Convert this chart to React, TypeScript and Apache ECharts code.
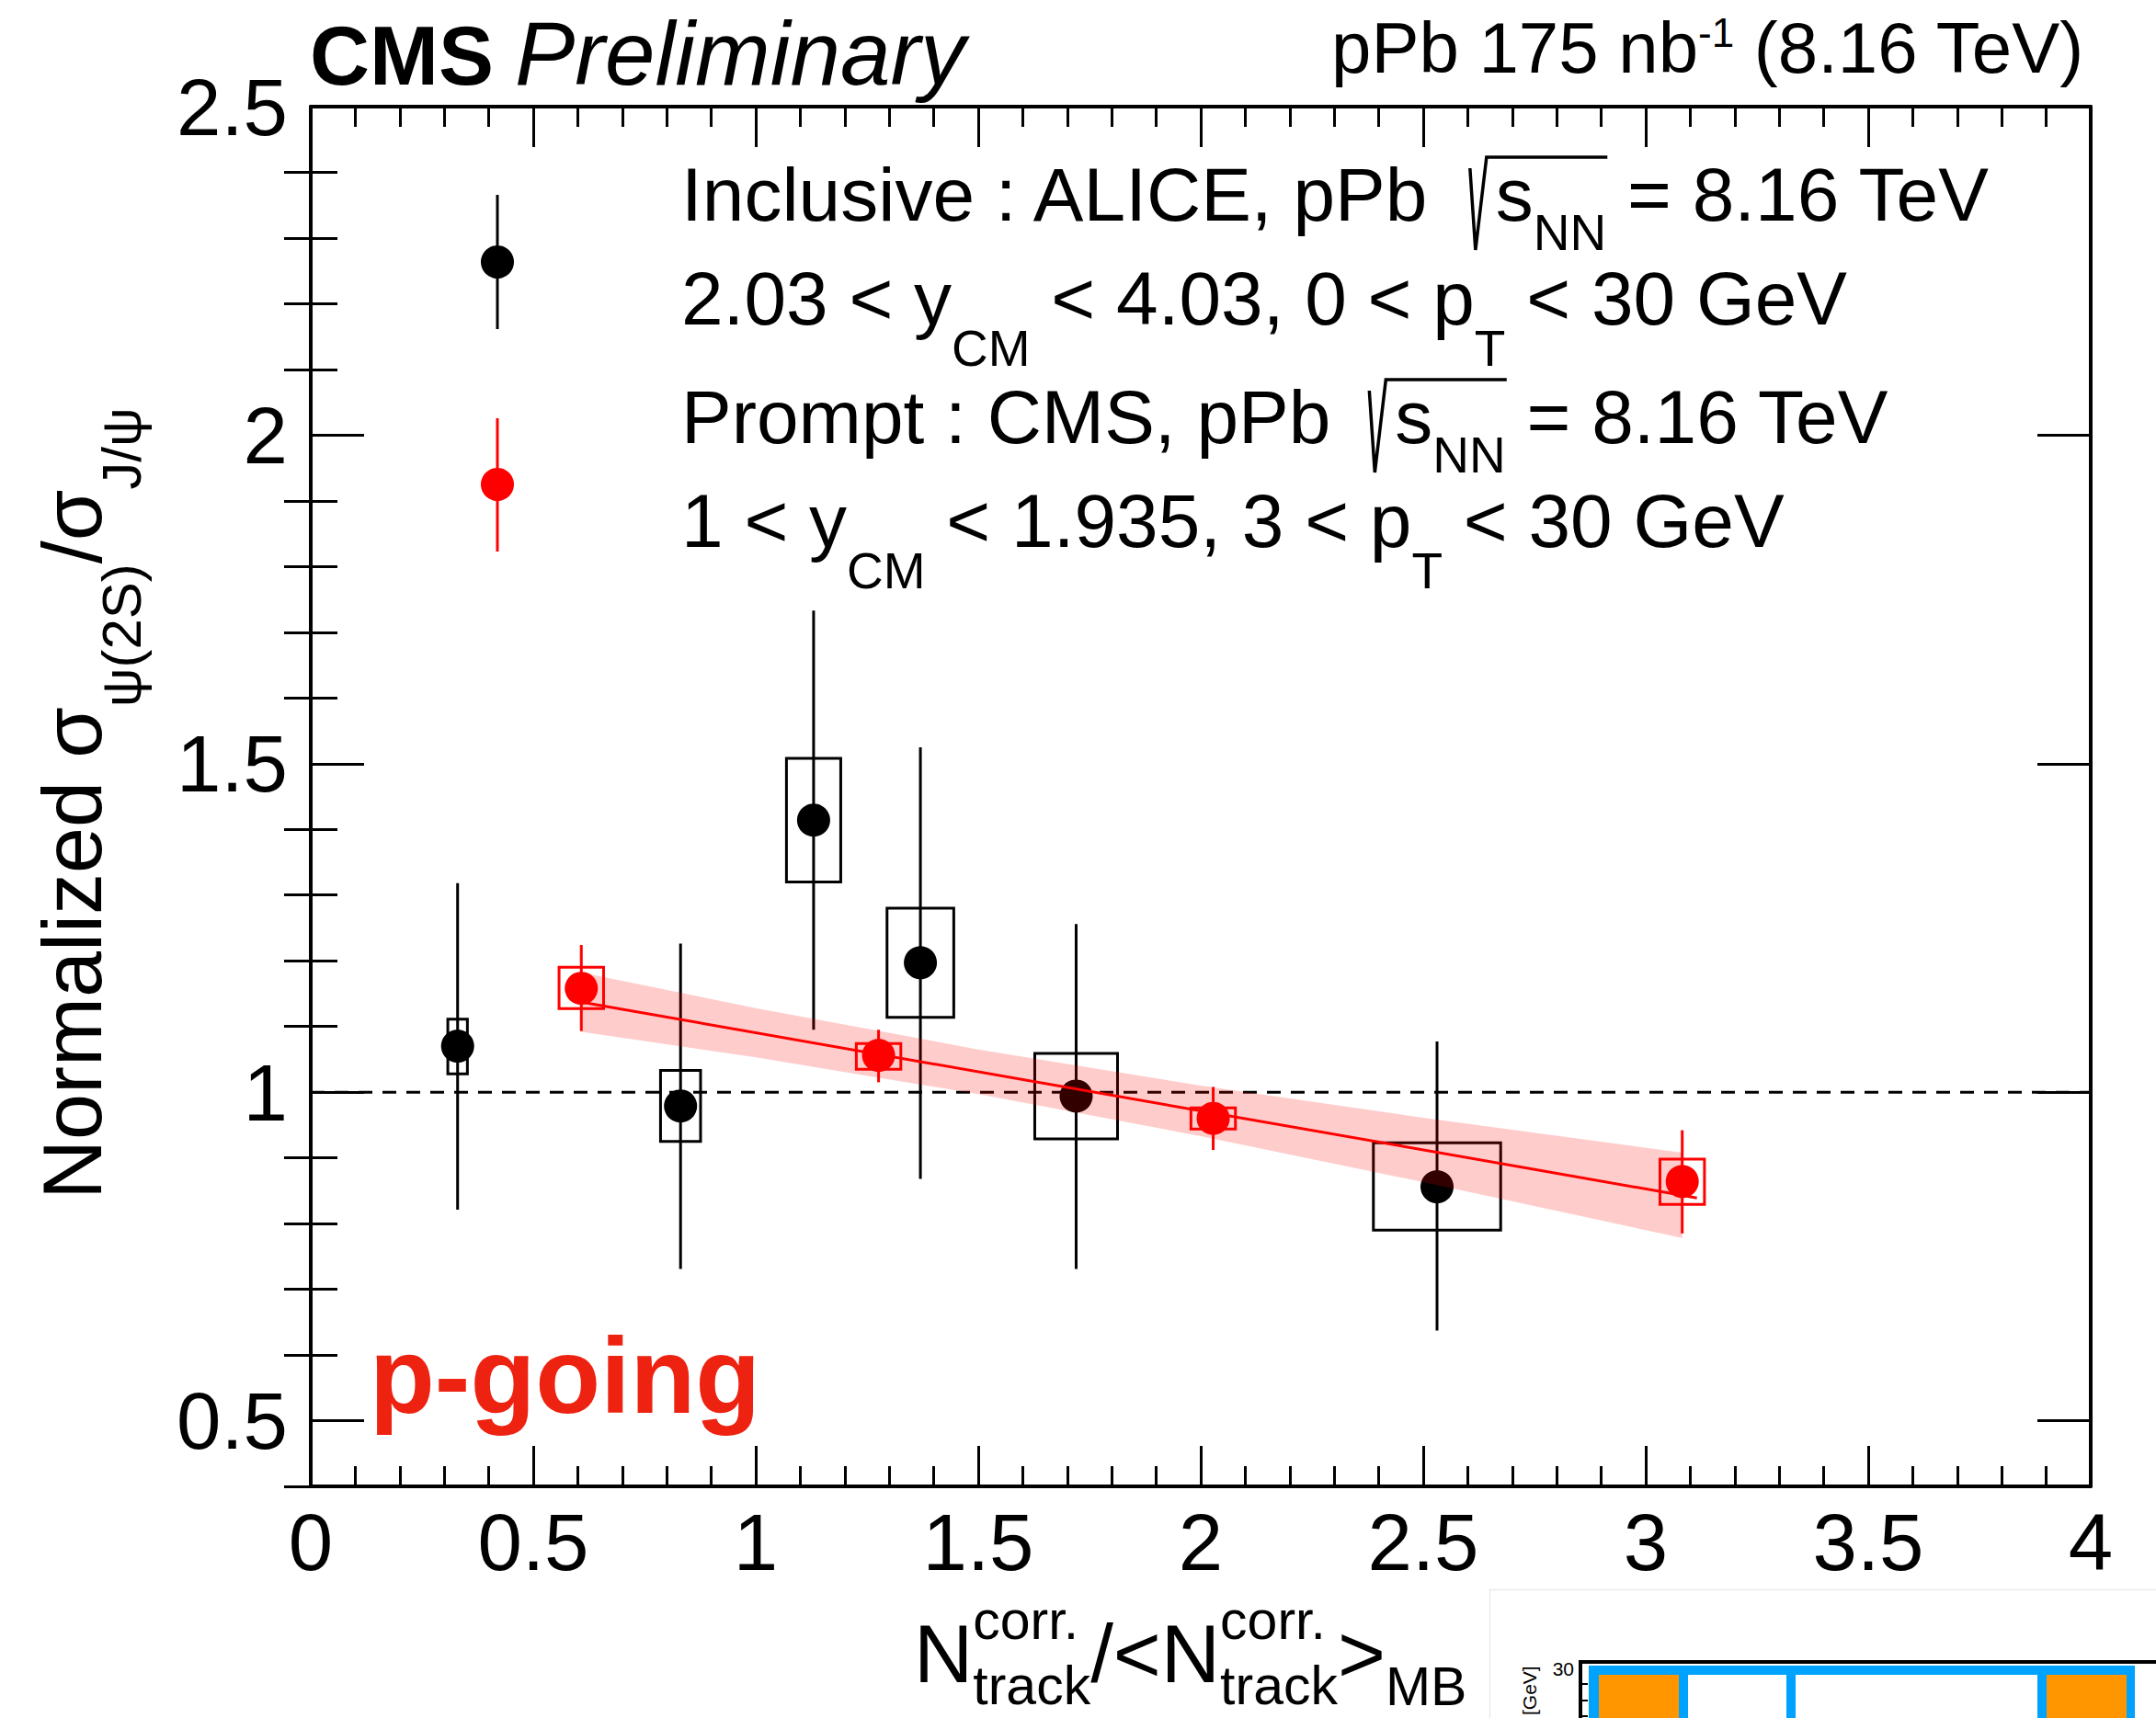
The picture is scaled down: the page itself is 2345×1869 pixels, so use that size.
import React, { useEffect, useRef } from "react";
import * as echarts from "echarts";

const FONT = "'Liberation Sans', Arial, Helvetica, sans-serif";
const CENTRAL = 0.3467;

// ---------------- data ----------------
// ALICE inclusive (black)
const aliceX = [0.33, 0.831, 1.13, 1.37, 1.72, 2.531];
const aliceY = [1.07, 0.979, 1.414, 1.197, 0.994, 0.856];
const aliceStatLo = [0.821, 0.731, 1.095, 0.868, 0.731, 0.637];
const aliceStatHi = [1.318, 1.226, 1.733, 1.525, 1.256, 1.077];
const aliceSysLo = [1.028, 0.925, 1.32, 1.114, 0.929, 0.79];
const aliceSysHi = [1.111, 1.033, 1.508, 1.28, 1.059, 0.923];
const aliceBoxHalfWidth = [0.022, 0.045, 0.061, 0.075, 0.093, 0.143];

// CMS prompt (red)
const cmsX = [0.608, 1.276, 2.028, 3.082];
const cmsY = [1.158, 1.056, 0.96, 0.864];
const cmsStatLo = [1.093, 1.015, 0.912, 0.785];
const cmsStatHi = [1.224, 1.095, 1.008, 0.942];
const cmsSysLo = [1.127, 1.035, 0.944, 0.829];
const cmsSysHi = [1.19, 1.074, 0.976, 0.898];
const cmsBoxHalfWidth = [0.05, 0.05, 0.05, 0.05];

// linear fit and its uncertainty band
const fitX = [0.6, 3.115];
const fitY = [1.138, 0.839];
const bandX = [0.608, 1.0, 1.5, 2.0, 2.5, 3.082];
const bandHi = [1.182, 1.128, 1.065, 1.01, 0.961, 0.908];
const bandLo = [1.092, 1.053, 0.997, 0.933, 0.863, 0.778];

// reference line at unity
const refX = [0, 4];
const refY = [1, 1];

// ticks
const xMajorTicks = [0, 0.5, 1, 1.5, 2, 2.5, 3, 3.5, 4];
const yMajorTicks = [0.5, 1, 1.5, 2, 2.5];
const yMinorTicks = [0.4, 0.6, 0.7, 0.8, 0.9, 1.1, 1.2, 1.3, 1.4, 1.6, 1.7, 1.8, 1.9, 2.1, 2.2, 2.3, 2.4];

// ---------------- text layout helpers ----------------
let _ctx: CanvasRenderingContext2D | null = null;
function measureW(t: string, s: number, weight = "normal", style = "normal") {
  if (!_ctx) _ctx = document.createElement("canvas").getContext("2d");
  _ctx!.font = `${style} ${weight} ${s}px ${FONT}`;
  return _ctx!.measureText(t).width;
}

function layout(tokens: any[], x0: number, base: number, color: string, out: any[]): number {
  let x = x0;
  for (const tk of tokens) {
    if (tk.gap !== undefined) {
      x += tk.gap;
      continue;
    }
    if (tk.stack) {
      const e1 = layout([tk.stack[0]], x, base, color, out);
      const e2 = layout([tk.stack[1]], x, base, color, out);
      x = Math.max(e1, e2);
      continue;
    }
    if (tk.sqrt) {
      const xs = x + tk.pre;
      const end = layout(tk.sqrt, xs, base, color, out);
      out.push({
        type: "polyline",
        silent: true,
        shape: {
          points: [
            [xs - 28, base - 57],
            [xs - 22, base + 32],
            [xs - 10, base - 69],
            [end + 1, base - 69],
          ],
        },
        style: { stroke: color, lineWidth: 3.5, fill: null },
      });
      x = end;
      continue;
    }
    const w = tk.bold ? "bold" : "normal";
    const st = tk.italic ? "italic" : "normal";
    const b = base + (tk.dy || 0);
    out.push({
      type: "text",
      silent: true,
      x,
      y: b - CENTRAL * tk.s,
      style: {
        text: tk.t,
        fontSize: tk.s,
        fontFamily: FONT,
        fontWeight: w,
        fontStyle: st,
        fill: tk.color || color,
        align: "left",
        verticalAlign: "middle",
      },
    });
    x += measureW(tk.t, tk.s, w, st);
  }
  return x;
}

function errorBoxRender(color: string) {
  return (params: any, api: any) => {
    const x = api.value(0);
    const hw = api.value(5);
    const pLo = api.coord([x, api.value(1)]);
    const pHi = api.coord([x, api.value(2)]);
    const b1 = api.coord([x - hw, api.value(4)]);
    const b2 = api.coord([x + hw, api.value(3)]);
    return {
      type: "group",
      children: [
        {
          type: "line",
          shape: { x1: pLo[0], y1: pLo[1], x2: pHi[0], y2: pHi[1] },
          style: { stroke: color, lineWidth: 3 },
        },
        {
          type: "rect",
          shape: { x: b1[0], y: b1[1], width: b2[0] - b1[0], height: b2[1] - b1[1] },
          style: { fill: "none", stroke: color, lineWidth: 3 },
        },
      ],
    };
  };
}

function buildGraphics() {
  const els: any[] = [];

  // header
  layout([{ t: "CMS", s: 90, bold: true }], 337, 92, "#000", els);
  layout([{ t: "Preliminary", s: 98, italic: true }], 560, 92, "#000", els);
  layout(
    [
      { t: "pPb 175 nb", s: 78 },
      { t: "-1", s: 44, dy: -28 },
      { t: " (8.16 TeV)", s: 78 },
    ],
    1448,
    79,
    "#000",
    els
  );

  // legend markers
  els.push({ type: "line", silent: true, shape: { x1: 541, y1: 212, x2: 541, y2: 358 }, style: { stroke: "#000", lineWidth: 3 } });
  els.push({ type: "circle", silent: true, shape: { cx: 541, cy: 285, r: 18 }, style: { fill: "#000" } });
  els.push({ type: "line", silent: true, shape: { x1: 541, y1: 455, x2: 541, y2: 600 }, style: { stroke: "#ff0000", lineWidth: 3 } });
  els.push({ type: "circle", silent: true, shape: { cx: 541, cy: 527, r: 18 }, style: { fill: "#ff0000" } });

  // legend texts
  const sq = (pre: number) => ({ sqrt: [{ t: "s", s: 82 }, { t: "NN", s: 55, dy: 32 }], pre });
  layout([{ t: "Inclusive : ALICE, pPb", s: 82 }, sq(70), { t: " = 8.16 TeV", s: 82 }], 741, 240, "#000", els);
  layout(
    [
      { t: "2.03 < y", s: 82 },
      { t: "CM", s: 55, dy: 45 },
      { t: " < 4.03, 0 < p", s: 82 },
      { t: "T", s: 55, dy: 45 },
      { t: " < 30 GeV", s: 82 },
    ],
    741,
    353,
    "#000",
    els
  );
  layout([{ t: "Prompt : CMS, pPb", s: 82 }, sq(70), { t: " = 8.16 TeV", s: 82 }], 741, 482, "#000", els);
  layout(
    [
      { t: "1 < y", s: 82 },
      { t: "CM", s: 55, dy: 45 },
      { t: " < 1.935, 3 < p", s: 82 },
      { t: "T", s: 55, dy: 45 },
      { t: " < 30 GeV", s: 82 },
    ],
    741,
    595,
    "#000",
    els
  );

  // p-going label
  layout([{ t: "p-going", s: 116, bold: true, color: "#ee2211" }], 402, 1537, "#ee2211", els);

  // x axis title
  const stack = { stack: [{ t: "corr.", s: 59, dy: -47 }, { t: "track", s: 59, dy: 24 }] };
  layout(
    [{ t: "N", s: 89 }, stack, { t: "/<N", s: 89 }, stack, { t: ">", s: 89 }, { t: "MB", s: 59, dy: 25 }],
    994,
    1830,
    "#000",
    els
  );

  // y axis title (rotated)
  const yt: any[] = [];
  layout(
    [
      { t: "Normalized σ", s: 90 },
      { t: "ψ(2S)", s: 60, dy: 43 },
      { t: "/σ", s: 90 },
      { t: "J/ψ", s: 60, dy: 43 },
    ],
    0,
    0,
    "#000",
    yt
  );
  els.push({ type: "group", x: 110, y: 1305, rotation: Math.PI / 2, children: yt, silent: true });

  // fragment of a neighbouring figure at the bottom-right edge
  els.push({ type: "rect", silent: true, shape: { x: 1620.5, y: 1729.5, width: 760, height: 200 }, style: { fill: "#fff", stroke: "#ebebeb", lineWidth: 1.5 } });
  els.push({ type: "rect", silent: true, shape: { x: 1719, y: 1808, width: 1618, height: 100 }, style: { fill: "none", stroke: "#000", lineWidth: 4 } });
  const orange = "#ff9600";
  const blue = "#00a2ff";
  els.push({ type: "rect", silent: true, shape: { x: 1739, y: 1822, width: 87, height: 60 }, style: { fill: orange } });
  els.push({ type: "rect", silent: true, shape: { x: 2226, y: 1822, width: 87, height: 60 }, style: { fill: orange } });
  els.push({ type: "rect", silent: true, shape: { x: 1728, y: 1812, width: 594, height: 10 }, style: { fill: blue } });
  for (const [a, b] of [[1728, 1739], [1826, 1836], [1943, 1953], [2216, 2226], [2313, 2322]]) {
    els.push({ type: "rect", silent: true, shape: { x: a, y: 1812, width: b - a, height: 60 }, style: { fill: blue } });
  }
  for (const ty of [1832, 1850, 1867]) {
    els.push({ type: "line", silent: true, shape: { x1: 1719, y1: ty, x2: 1727, y2: ty }, style: { stroke: "#000", lineWidth: 2 } });
  }
  els.push({
    type: "text",
    silent: true,
    x: 1712,
    y: 1815,
    style: { text: "30", fontSize: 21, fontFamily: FONT, fill: "#000", align: "right", verticalAlign: "middle" },
  });
  els.push({
    type: "text",
    silent: true,
    x: 1663,
    y: 1866,
    rotation: Math.PI / 2,
    style: { text: "[GeV]", fontSize: 21, fontFamily: FONT, fill: "#000", align: "left", verticalAlign: "middle" },
  });

  return els;
}

export default function App() {
  const ref = useRef<HTMLDivElement>(null);

  useEffect(() => {
    if (!ref.current) return;
    const chart = echarts.init(ref.current, null, { renderer: "svg" });

    const aliceRows = aliceX.map((x, i) => [x, aliceStatLo[i], aliceStatHi[i], aliceSysLo[i], aliceSysHi[i], aliceBoxHalfWidth[i]]);
    const cmsRows = cmsX.map((x, i) => [x, cmsStatLo[i], cmsStatHi[i], cmsSysLo[i], cmsSysHi[i], cmsBoxHalfWidth[i]]);
    const bandRows = bandX.map((x, i) => [x, bandLo[i], bandHi[i]]);

    const axisLineStyle = { color: "#000", width: 4 };
    const tickStyle = { color: "#000", width: 3 };
    const yCommon = { type: "value", min: 0.4, max: 2.5, splitLine: { show: false } };

    const option: any = {
      animation: false,
      backgroundColor: "#ffffff",
      grid: { left: 338, top: 116, width: 1936, height: 1501, containLabel: false, outerBoundsMode: "none", show: false },
      xAxis: [
        {
          type: "value",
          position: "bottom",
          min: 0,
          max: 4,
          interval: 0.5,
          axisLine: { show: true, onZero: false, lineStyle: axisLineStyle },
          axisTick: { show: true, inside: true, length: 44, lineStyle: tickStyle, customValues: xMajorTicks },
          minorTick: { show: true, splitNumber: 5, length: 22, lineStyle: tickStyle },
          axisLabel: { show: true, customValues: xMajorTicks, fontSize: 87, fontFamily: FONT, color: "#000", margin: 17 },
          splitLine: { show: false },
        },
        {
          type: "value",
          position: "top",
          min: 0,
          max: 4,
          interval: 0.5,
          axisLine: { show: true, onZero: false, lineStyle: axisLineStyle },
          axisTick: { show: true, inside: true, length: 44, lineStyle: tickStyle },
          minorTick: { show: true, splitNumber: 5, length: 22, lineStyle: tickStyle },
          axisLabel: { show: false },
          splitLine: { show: false },
        },
      ],
      yAxis: [
        {
          ...yCommon,
          position: "left",
          axisLine: { show: true, onZero: false, lineStyle: axisLineStyle },
          axisTick: { show: true, inside: true, length: 58, lineStyle: tickStyle, customValues: yMajorTicks },
          axisLabel: { show: true, customValues: yMajorTicks, fontSize: 87, fontFamily: FONT, color: "#000", margin: 25 },
        },
        {
          ...yCommon,
          position: "left",
          axisLine: { show: false },
          axisTick: { show: true, inside: true, length: 29, lineStyle: tickStyle, customValues: yMinorTicks },
          axisLabel: { show: false },
        },
        {
          ...yCommon,
          position: "right",
          axisLine: { show: true, onZero: false, lineStyle: axisLineStyle },
          axisTick: { show: true, inside: true, length: 58, lineStyle: tickStyle, customValues: yMajorTicks },
          axisLabel: { show: false },
        },
        {
          ...yCommon,
          position: "right",
          axisLine: { show: false },
          axisTick: { show: true, inside: true, length: 29, lineStyle: tickStyle, customValues: yMinorTicks },
          axisLabel: { show: false },
        },
      ],
      series: [
        {
          type: "line",
          name: "unity",
          z: 2,
          silent: true,
          showSymbol: false,
          data: refX.map((x, i) => [x, refY[i]]),
          lineStyle: { color: "#000", width: 3, type: [15, 11] },
        },
        {
          type: "custom",
          name: "ALICE errors",
          z: 3,
          silent: true,
          data: aliceRows,
          renderItem: errorBoxRender("#000"),
        },
        {
          type: "scatter",
          name: "Inclusive : ALICE",
          z: 4,
          silent: true,
          symbol: "circle",
          symbolSize: 36,
          data: aliceX.map((x, i) => [x, aliceY[i]]),
          itemStyle: { color: "#000", opacity: 1 },
        },
        {
          type: "custom",
          name: "fit band",
          z: 5,
          silent: true,
          data: bandRows,
          renderItem: (params: any, api: any) => {
            if (params.dataIndex !== 0) return null;
            const pts: number[][] = [];
            for (let i = 0; i < bandRows.length; i++) pts.push(api.coord([bandRows[i][0], bandRows[i][2]]));
            for (let i = bandRows.length - 1; i >= 0; i--) pts.push(api.coord([bandRows[i][0], bandRows[i][1]]));
            return { type: "polygon", shape: { points: pts }, style: { fill: "rgba(255,0,0,0.2)" } };
          },
        },
        {
          type: "line",
          name: "fit",
          z: 6,
          silent: true,
          showSymbol: false,
          data: fitX.map((x, i) => [x, fitY[i]]),
          lineStyle: { color: "#ff0000", width: 3 },
        },
        {
          type: "custom",
          name: "CMS errors",
          z: 7,
          silent: true,
          data: cmsRows,
          renderItem: errorBoxRender("#ff0000"),
        },
        {
          type: "scatter",
          name: "Prompt : CMS",
          z: 8,
          silent: true,
          symbol: "circle",
          symbolSize: 36,
          data: cmsX.map((x, i) => [x, cmsY[i]]),
          itemStyle: { color: "#ff0000", opacity: 1 },
        },
      ],
      graphic: { elements: buildGraphics() },
    };

    chart.setOption(option);
    return () => chart.dispose();
  }, []);

  return (
    <div
      ref={ref}
      style={{ position: "absolute", left: 0, top: 0, width: 2345, height: 1869, background: "#fff" }}
    />
  );
}
